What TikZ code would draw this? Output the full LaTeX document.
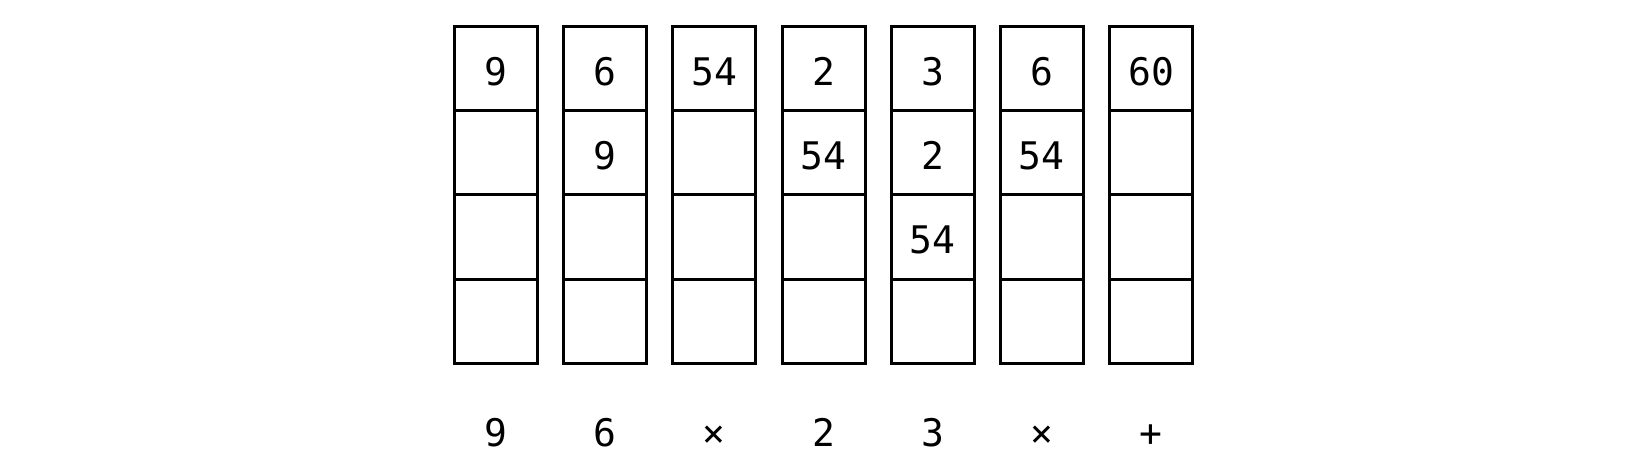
\documentclass[tikz,border=0pt]{standalone}
\usepackage{fontspec}
\setmonofont{DejaVu Sans Mono}
\begin{document}
\begin{tikzpicture}[x=0.5pt,y=-0.5pt,
  cell/.style={draw=black,line width=1.5pt,minimum width=41.5pt,minimum height=42.1pt,inner sep=0pt},
  val/.style={inner sep=0pt,anchor=base,font=\ttfamily\fontsize{19}{20}\selectfont},
  lab/.style={inner sep=0pt,anchor=base,font=\ttfamily\fontsize{19}{20}\selectfont}]
\useasboundingbox (0,0) rectangle (1650,475);
\def\colw{109.17}
\foreach \i/\a/\b/\c/\d/\l in {0/9////9, 1/6/9///6, 2/54////{×}, 3/2/54///2, 4/3/2/54//3, 5/6/54///{×}, 6/60////+}{
  \pgfmathsetmacro\cx{496+\i*\colw}
  \node[cell] (c\i r0) at (\cx,68.6) {};
  \node[cell] (c\i r1) at (\cx,152.9) {};
  \node[cell] (c\i r2) at (\cx,237.1) {};
  \node[cell] (c\i r3) at (\cx,321.4) {};
  \node[val] (v\i r0) at ([yshift=-8.4pt]c\i r0.center) {\a};
  \node[val] (v\i r1) at ([yshift=-8.4pt]c\i r1.center) {\b};
  \node[val] (v\i r2) at ([yshift=-8.4pt]c\i r2.center) {\c};
  \node[val] (v\i r3) at ([yshift=-8.4pt]c\i r3.center) {\d};
  \node[lab] (l\i) at (\cx,447) {\l};
}
\end{tikzpicture}
\end{document}
